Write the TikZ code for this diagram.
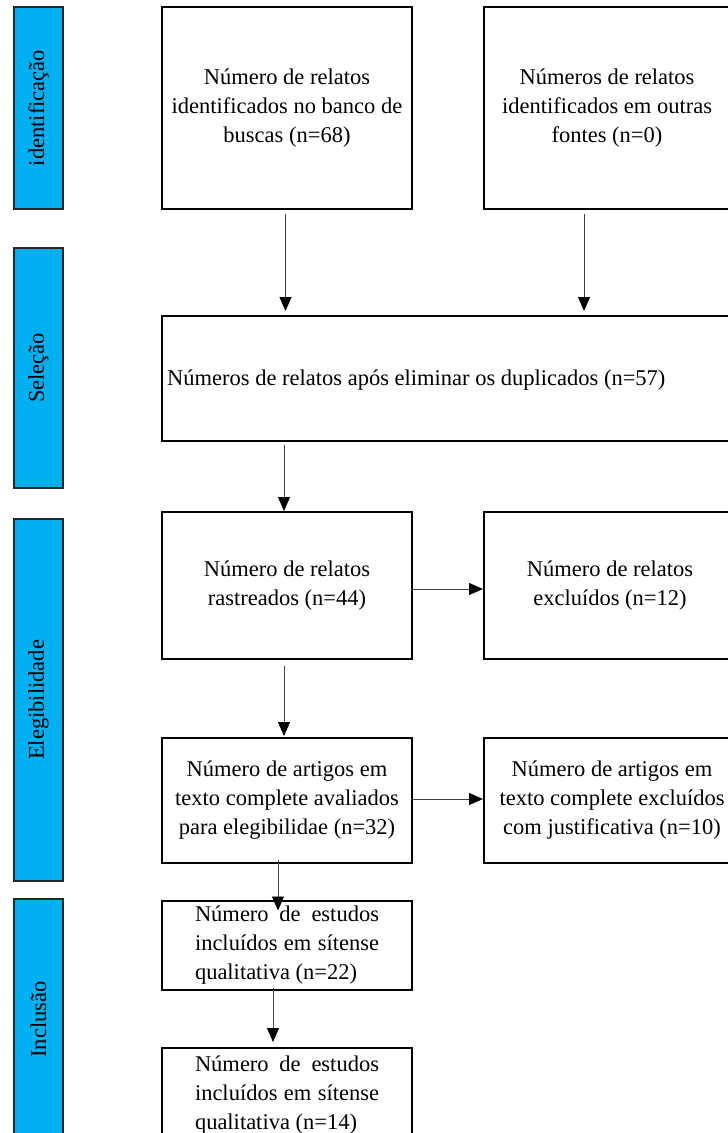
\documentclass[tikz,border=0pt]{standalone}
\usepackage{fontspec}
\setmainfont{Liberation Serif}
\usetikzlibrary{arrows.meta,calc}
\definecolor{phaseblue}{RGB}{0,176,240}
\begin{document}
\begin{tikzpicture}[x=1pt,y=-1pt,
  font=\fontsize{22.5pt}{29pt}\selectfont,
  box/.style={draw=black, line width=2pt, rectangle, inner sep=0pt, align=center},
  phase/.style={draw=black!85, line width=1.5pt, fill=phaseblue, rectangle, inner sep=0pt, rotate=90},
  arr/.style={-{Triangle[length=14pt,width=12pt,color=black]}, line width=0.8pt, draw=black!75}]
\useasboundingbox (0,0) rectangle (728,1133);
\clip (0,0) rectangle (728,1133);

% phase bars on the left
\node[phase, minimum width=202pt, minimum height=49pt] (pid)  at (38.5,108)  {identificação};
\node[phase, minimum width=240pt, minimum height=49pt] (psel) at (38.5,368)  {Seleção};
\node[phase, minimum width=362pt, minimum height=49pt] (pel)  at (38.5,700)  {Elegibilidade};
\node[phase, minimum width=241pt, minimum height=49pt] (pinc) at (38.5,1019.5) {Inclusão};

% identification
\node[box, minimum width=250pt, minimum height=202pt] (b1) at (287,108)
  {Número de relatos\\identificados no banco de\\buscas (n=68)};
\node[box, minimum width=246pt, minimum height=202pt] (b2) at (607,108)
  {Números de relatos\\identificados em outras\\fontes (n=0)};

% screening
\node[box, minimum width=578pt, minimum height=125pt] (sel) at (451,378.5) {};
\node[anchor=west, inner sep=0pt] (seltxt) at (167,380)
  {Números de relatos após eliminar os duplicados (n=57)};

% eligibility
\node[box, minimum width=250pt, minimum height=147pt] (ras) at (287,585.5)
  {Número de relatos\\rastreados (n=44)};
\node[box, minimum width=252pt, minimum height=147pt] (exc) at (610,585.5)
  {Número de relatos\\excluídos (n=12)};
\node[box, minimum width=250pt, minimum height=125pt] (art) at (287,800.5)
  {Número de artigos em\\texto complete avaliados\\para elegibilidae (n=32)};
\node[box, minimum width=256pt, minimum height=125pt] (artx) at (612,800.5)
  {Número de artigos em\\texto complete excluídos\\com justificativa (n=10)};

% inclusion
\node[box, minimum width=250pt, minimum height=89pt, align=left] (inc1) at (287,945)
  {\makebox[184pt][s]{Número de estudos}\\
   \makebox[184pt][s]{incluídos em sítense}\\
   \makebox[184pt][l]{qualitativa (n=22)}};
\node[box, minimum width=250pt, minimum height=94pt, align=left] (inc2) at (287,1095)
  {\makebox[184pt][s]{Número de estudos}\\
   \makebox[184pt][s]{incluídos em sítense}\\
   \makebox[184pt][l]{qualitativa (n=14)}};

% connectors
\draw[arr, shorten <=4pt, shorten >=4pt] ([xshift=-1.5pt]b1.south) -- ([xshift=-1.5pt]b1.south |- sel.north);
\draw[arr, shorten <=4pt, shorten >=4pt] ([xshift=-23pt]b2.south) -- ([xshift=-23pt]b2.south |- sel.north);
\draw[arr, shorten <=3pt] ([xshift=-3pt]ras.north |- sel.south) -- ([xshift=-3pt]ras.north);
\draw[arr] ([yshift=-3.5pt]ras.east) -- ([yshift=-3.5pt]ras.east -| exc.west);
\draw[arr, shorten <=6pt, shorten >=1pt] ([xshift=-3pt]ras.south) -- ([xshift=-3pt]ras.south |- art.north);
\draw[arr] ([yshift=1.5pt]art.east) -- ([yshift=1.5pt]art.east -| artx.west);
\draw[arr, shorten <=-4pt, shorten >=-11pt] ([xshift=-9pt]art.south) -- ([xshift=-9pt]art.south |- inc1.north);
\draw[arr, shorten <=-3pt, shorten >=5pt] ([xshift=-14pt]inc1.south) -- ([xshift=-14pt]inc1.south |- inc2.north);
\end{tikzpicture}
\end{document}
